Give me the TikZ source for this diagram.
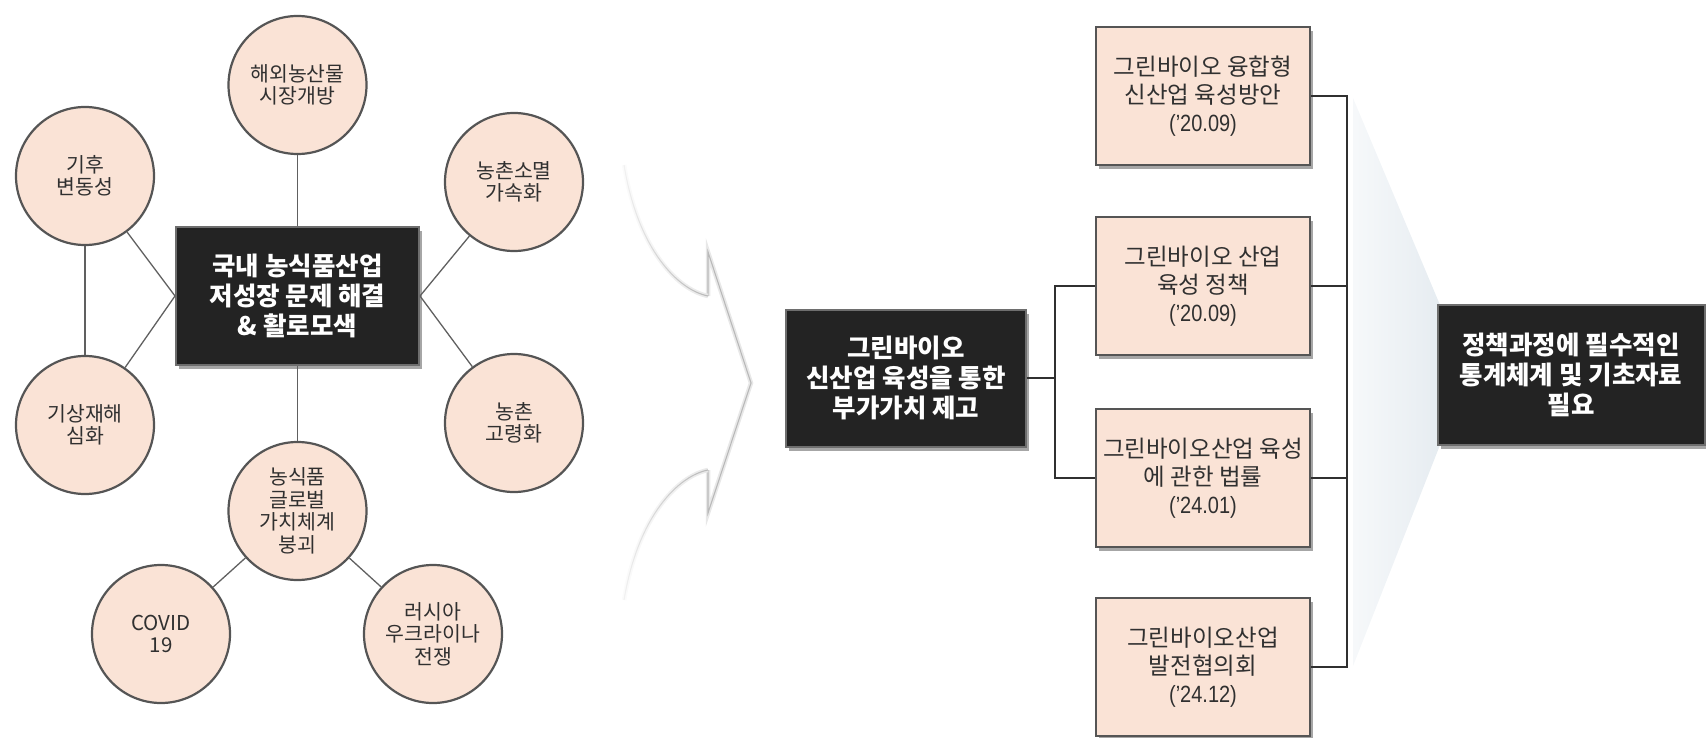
\documentclass[tikz,border=0pt]{standalone}
\usepackage{fontspec}
\newfontfamily\kr{Noto Sans CJK KR}
\newfontfamily\lib[FakeStretch=0.85]{Liberation Sans}
\usetikzlibrary{shadows,fadings}
\definecolor{peach}{HTML}{FAE3D6}
\definecolor{ink}{HTML}{303030}
\definecolor{dark}{HTML}{232323}
\definecolor{rim}{HTML}{555555}
\definecolor{funnel}{HTML}{E6ECF1}
\tikzfading[name=fadeleft, left color=transparent!85, right color=transparent!0]
\begin{document}
\begin{tikzpicture}[x=1pt,y=-1pt,
  bubble/.style={circle, draw=rim, line width=2.2pt, fill=peach, minimum size=138pt, inner sep=0pt,
    align=center, text=ink, font=\kr\fontsize{20.5}{22.5}\selectfont},
  darkbox/.style={rectangle, draw=rim!85, line width=2pt, fill=dark, text=white, align=center,
    inner sep=0pt, font=\kr\bfseries\fontsize{25.5}{30}\selectfont,
    drop shadow={shadow xshift=3pt, shadow yshift=-4pt, opacity=0.35, fill=black}},
  pinkbox/.style={rectangle, draw=rim, line width=2pt, fill=peach, text=ink, align=center,
    inner sep=0pt, minimum width=214pt, minimum height=138pt,
    font=\kr\fontsize{23.5}{28}\selectfont,
    drop shadow={shadow xshift=3pt, shadow yshift=-4pt, opacity=0.35, fill=black}},
  link/.style={draw=gray!75!black, line width=1.3pt},
  bracket/.style={draw=ink, line width=2pt},
  chev/.style={draw=gray!55, line width=1.1pt, line join=miter},
  chevglow/.style={draw=gray!18, line width=4.5pt, line join=miter}
]
\useasboundingbox (0,0) rectangle (1706,738);

% funnel shading on the right
\shade[left color=funnel!35, right color=funnel] (1353,98) -- (1440,305) -- (1440,445) -- (1353,666) -- cycle;

% central chevron arrow
\draw[chevglow] (708,296) -- (708,252) -- (751,383) -- (708,513) -- (708,470);
\draw[chev] (708,296) -- (708,252) -- (751,383) -- (708,513) -- (708,470);
\draw[chevglow, path fading=fadeleft] (624,165) .. controls (638,250) and (678,290) .. (708,296);
\draw[chev, path fading=fadeleft] (624,165) .. controls (638,250) and (678,290) .. (708,296);
\draw[chevglow, path fading=fadeleft] (708,470) .. controls (678,476) and (638,516) .. (624,600);
\draw[chev, path fading=fadeleft] (708,470) .. controls (678,476) and (638,516) .. (624,600);

% left cluster
\node[darkbox, minimum width=243pt, minimum height=138pt] (core) at (297.5,296)
  {국내 농식품산업\\저성장 문제 해결\\\& 활로모색};
\node[bubble] (haewoe) at (297.5,85) {해외농산물\\시장개방};
\node[bubble] (gihu) at (85,176) {기후\\변동성};
\node[bubble] (sobyeol) at (514,182) {농촌소멸\\가속화};
\node[bubble] (gisang) at (85,425) {기상재해\\심화};
\node[bubble] (goryeong) at (514,423) {농촌\\고령화};
\node[bubble] (global) at (297.5,511) {농식품\\글로벌\\가치체계\\붕괴};
\node[bubble] (covid) at (161,634) {COVID\\19};
\node[bubble] (russia) at (433,634) {러시아\\우크라이나\\전쟁};

\draw[link] (haewoe) -- (core);
\draw[link] (gihu) -- (gisang);
\draw[link] (gihu) -- (core.west);
\draw[link] (gisang) -- (core.west);
\draw[link] (sobyeol) -- (core.east);
\draw[link] (goryeong) -- (core.east);
\draw[link] (core) -- (global);
\draw[link] (global) -- (covid);
\draw[link] (global) -- (russia);

% middle
\node[darkbox, minimum width=240pt, minimum height=137pt] (green) at (906,378)
  {그린바이오\\신산업 육성을 통한\\부가가치 제고};

\node[pinkbox] (p1) at (1203,96) {그린바이오 융합형\\신산업 육성방안\\{\lib(’20.09)}};
\node[pinkbox] (p2) at (1203,286) {그린바이오 산업\\육성 정책\\{\lib(’20.09)}};
\node[pinkbox] (p3) at (1203,478) {그린바이오산업 육성\\에 관한 법률\\{\lib(’24.01)}};
\node[pinkbox] (p4) at (1203,667) {그린바이오산업\\발전협의회\\{\lib(’24.12)}};

\coordinate (j) at (1055,378);
\draw[bracket] (green.east) -- (j);
\draw[bracket] (p2.west) -| (j) |- (p3.west);

\coordinate (k) at (1347,0);
\draw[bracket] (p1.east) -- (p1.east -| k) -- (p4.east -| k) -- (p4.east);
\draw[bracket] (p2.east) -- (p2.east -| k);
\draw[bracket] (p3.east) -- (p3.east -| k);

% right
\node[darkbox, minimum width=267pt, minimum height=140pt] (need) at (1571,375)
  {정책과정에 필수적인\\통계체계 및 기초자료\\필요};
\end{tikzpicture}
\end{document}
